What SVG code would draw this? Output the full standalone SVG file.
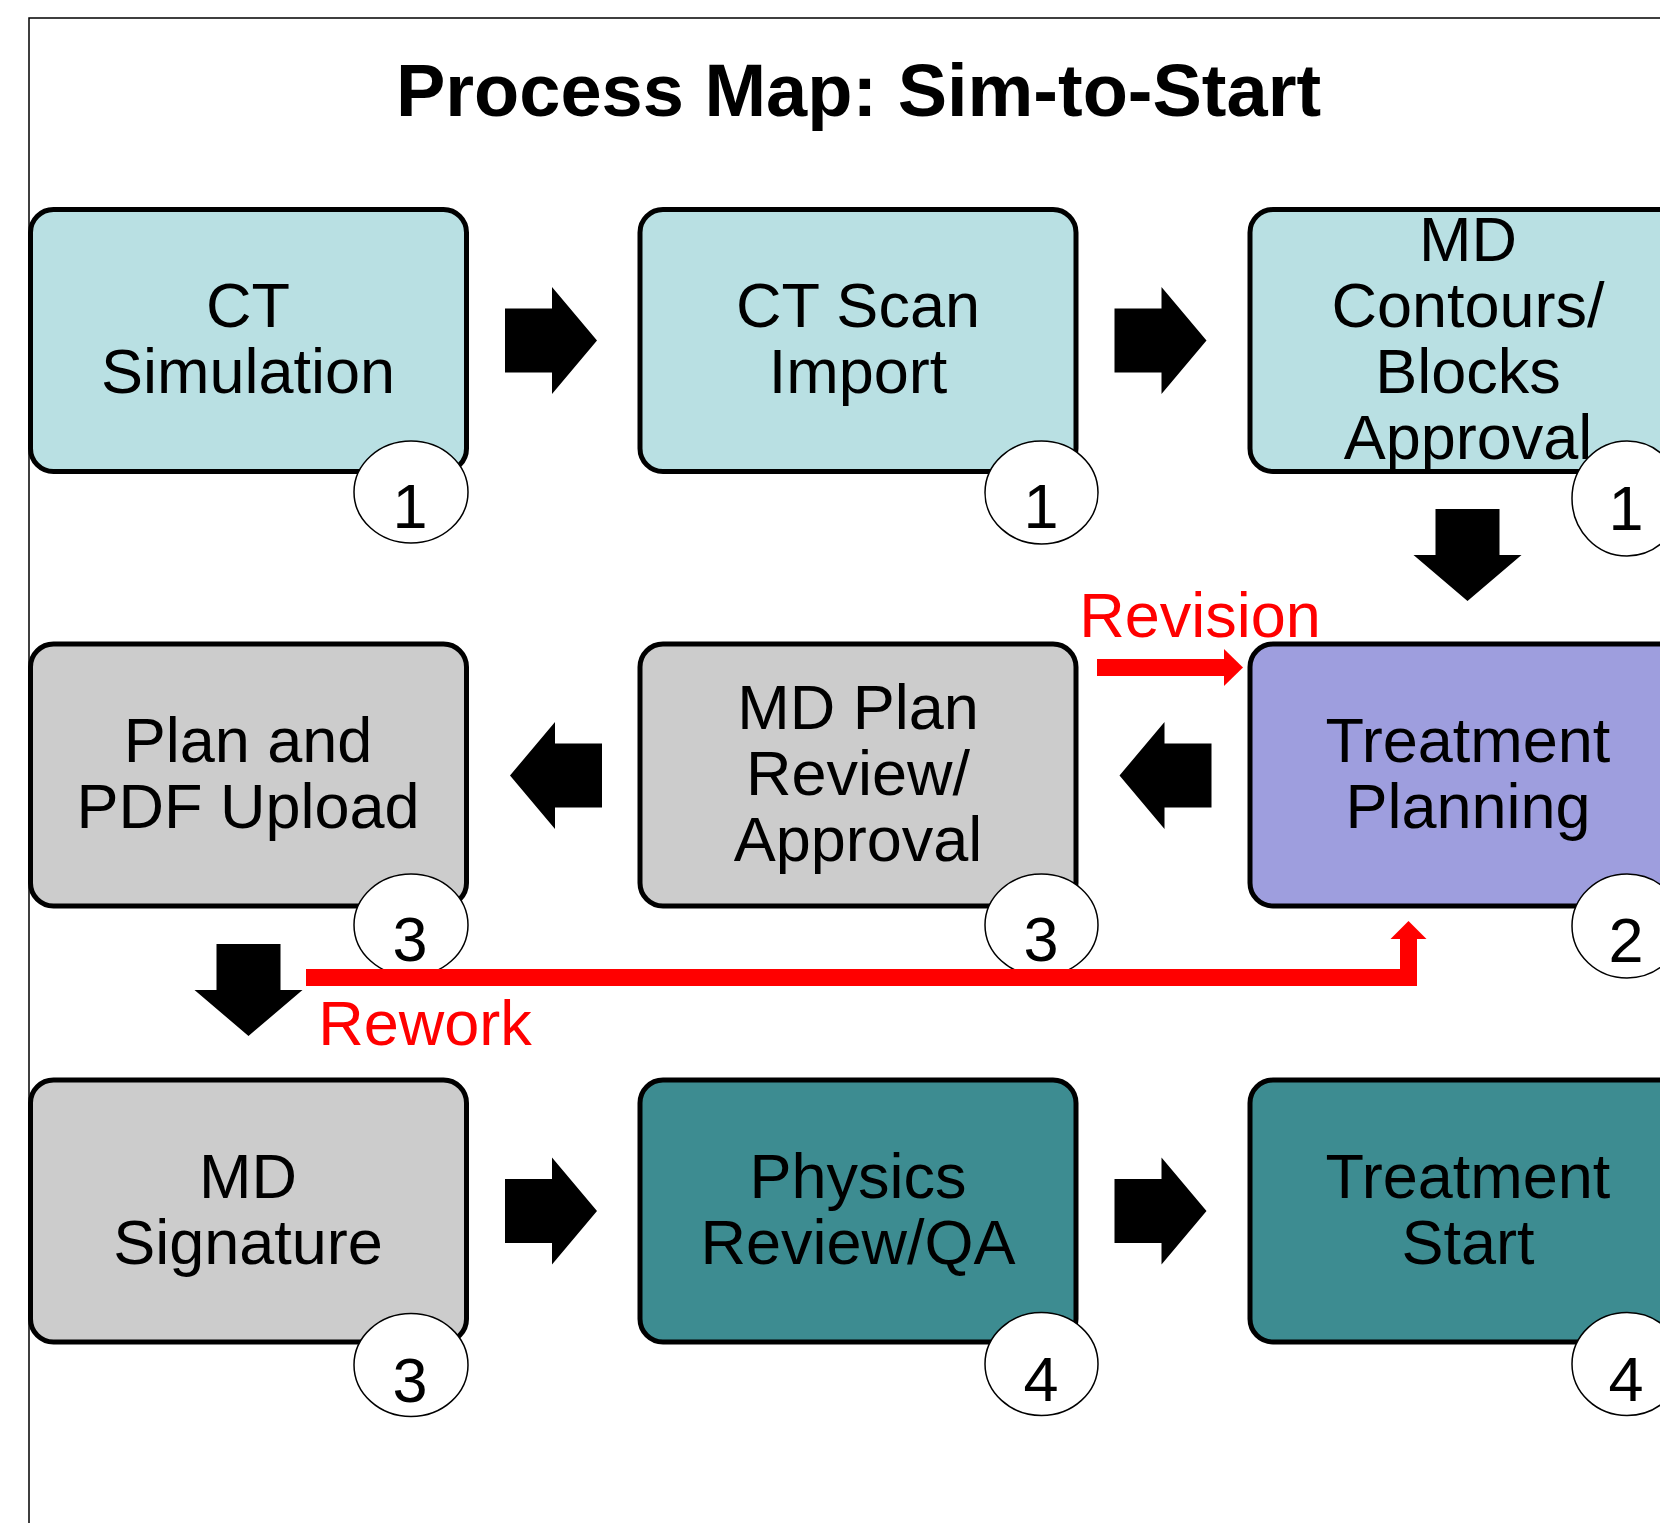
<svg xmlns="http://www.w3.org/2000/svg" xmlns:xlink="http://www.w3.org/1999/xlink" width="1660" height="1523" viewBox="0 0 1660 1523">
<style>
.box{stroke:#000;stroke-width:5}
.blue{fill:#B9E0E3}
.gray{fill:#CCCCCC}
.purple{fill:#9E9EDE}
.teal{fill:#3D8C91}
.lbl{font-family:"Liberation Sans",Arial,sans-serif;font-size:63px;fill:#000;text-anchor:middle}
.badge{fill:#fff;stroke:#000;stroke-width:1.5}
.num{font-family:"Liberation Sans",Arial,sans-serif;font-size:63px;fill:#000;text-anchor:middle}
.red{font-family:"Liberation Sans",Arial,sans-serif;font-size:63px;fill:#FF0000;text-anchor:middle}
.redline{fill:none;stroke:#FF0000;stroke-width:17;stroke-linejoin:miter}
</style>
<defs>
<polygon id="arrowR" points="0,-32 47,-32 47,-53.5 92,0 47,53.5 47,32 0,32" fill="#000"/>
<polygon id="arrowL" points="0,0 45,-53.5 45,-32 92,-32 92,32 45,32 45,53.5" fill="#000"/>
<polygon id="arrowD" points="-32,0 32,0 32,46 54,46 0,92 -54,46 -32,46" fill="#000"/>
</defs>
<rect width="1660" height="1523" fill="#fff"/>
<rect x="29" y="18" width="1700" height="1600" fill="none" stroke="#000" stroke-width="1.5"/>
<text x="858.5" y="116" font-family="'Liberation Sans',Arial,sans-serif" font-size="74" font-weight="bold" text-anchor="middle">Process Map: Sim-to-Start</text>

<g id="n1">
<rect class="box blue" x="30.5" y="209.5" width="436" height="262" rx="23"/>
<text class="lbl" x="248" y="327">CT</text>
<text class="lbl" x="248" y="393">Simulation</text>
<ellipse class="badge" cx="411" cy="492" rx="57" ry="51"/>
<text class="num" x="410" y="528">1</text>
</g>
<g id="n2">
<rect class="box blue" x="640" y="209.5" width="436" height="262" rx="23"/>
<text class="lbl" x="858" y="327">CT Scan</text>
<text class="lbl" x="858" y="393">Import</text>
<ellipse class="badge" cx="1041.5" cy="492.5" rx="56.5" ry="51.5"/>
<text class="num" x="1041" y="528">1</text>
</g>
<g id="n3">
<rect class="box blue" x="1250" y="209.5" width="436" height="262" rx="23"/>
<ellipse class="badge" cx="1627" cy="498.5" rx="55" ry="57.5"/>
<text class="lbl" x="1468" y="261">MD</text>
<text class="lbl" x="1468" y="327">Contours/</text>
<text class="lbl" x="1468" y="393">Blocks</text>
<text class="lbl" x="1468" y="459">Approval</text>
<text class="num" x="1626" y="530">1</text>
</g>
<g id="n4">
<rect class="box purple" x="1250" y="644" width="436" height="262" rx="23"/>
<text class="lbl" x="1468" y="761.5">Treatment</text>
<text class="lbl" x="1468" y="827.5">Planning</text>
<ellipse class="badge" cx="1627" cy="926" rx="55" ry="52"/>
<text class="num" x="1626" y="962">2</text>
</g>
<g id="n5">
<rect class="box gray" x="640" y="644" width="436" height="262" rx="23"/>
<text class="lbl" x="858" y="728.5">MD Plan</text>
<text class="lbl" x="858" y="794.5">Review/</text>
<text class="lbl" x="858" y="860.5">Approval</text>
<ellipse class="badge" cx="1041.5" cy="925" rx="56.5" ry="51"/>
<text class="num" x="1041" y="961">3</text>
</g>
<g id="n6">
<rect class="box gray" x="30.5" y="644" width="436" height="262" rx="23"/>
<text class="lbl" x="248" y="761.5">Plan and</text>
<text class="lbl" x="248" y="827.5">PDF Upload</text>
<ellipse class="badge" cx="411" cy="925" rx="57" ry="51"/>
<text class="num" x="410" y="961">3</text>
</g>
<g id="n7">
<rect class="box gray" x="30.5" y="1080" width="436" height="262" rx="23"/>
<text class="lbl" x="248" y="1197.5">MD</text>
<text class="lbl" x="248" y="1263.5">Signature</text>
<ellipse class="badge" cx="411" cy="1365" rx="57" ry="51.5"/>
<text class="num" x="410" y="1402">3</text>
</g>
<g id="n8">
<rect class="box teal" x="640" y="1080" width="436" height="262" rx="23"/>
<text class="lbl" x="858" y="1197.5">Physics</text>
<text class="lbl" x="858" y="1263.5">Review/QA</text>
<ellipse class="badge" cx="1041.5" cy="1364" rx="56.5" ry="51.5"/>
<text class="num" x="1041" y="1401">4</text>
</g>
<g id="n9">
<rect class="box teal" x="1250" y="1080" width="436" height="262" rx="23"/>
<text class="lbl" x="1468" y="1197.5">Treatment</text>
<text class="lbl" x="1468" y="1263.5">Start</text>
<ellipse class="badge" cx="1627" cy="1364" rx="55" ry="51.5"/>
<text class="num" x="1626" y="1401">4</text>
</g>

<g id="connectors">
<use href="#arrowR" x="505" y="340.5"/>
<use href="#arrowR" x="1114.5" y="340.5"/>
<use href="#arrowD" x="1467.5" y="509"/>
<use href="#arrowL" x="1119.5" y="775.5"/>
<use href="#arrowL" x="510" y="775.5"/>
<use href="#arrowD" x="248.5" y="944"/>
<use href="#arrowR" x="505" y="1211"/>
<use href="#arrowR" x="1114.5" y="1211"/>
<line class="redline" x1="1097" y1="667.5" x2="1225" y2="667.5"/>
<polygon points="1224,649 1243,667.5 1224,686" fill="#FF0000"/>
<text class="red" x="1200" y="637">Revision</text>
<polyline class="redline" points="306,977.5 1408.5,977.5 1408.5,938"/>
<polygon points="1390.5,939 1408.5,921 1426.5,939" fill="#FF0000"/>
<text class="red" x="425" y="1045">Rework</text>
</g>
</svg>
